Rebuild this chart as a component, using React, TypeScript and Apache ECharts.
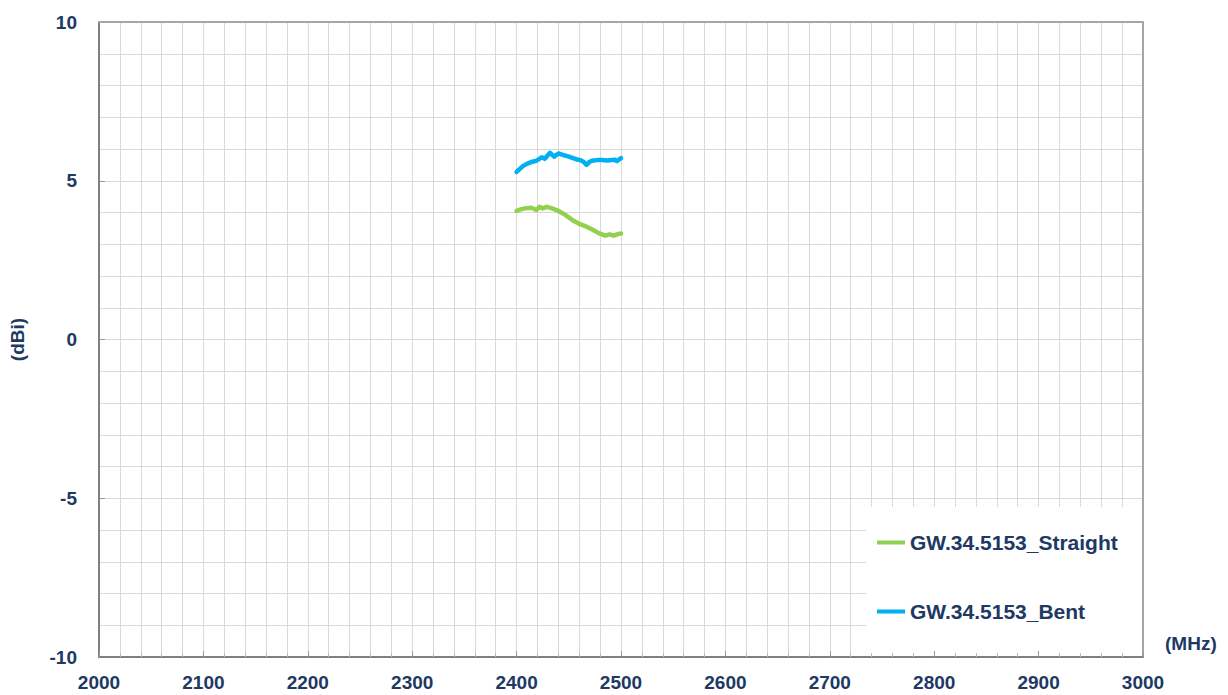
import React, { useEffect, useRef } from "react";
import * as echarts from "echarts";

const straightFreq = [2400, 2404, 2408, 2414, 2419, 2422, 2425, 2429, 2434, 2440, 2446, 2451, 2455, 2459, 2465, 2472, 2478, 2485, 2489, 2493, 2497, 2500];
const straightGain = [4.05, 4.10, 4.13, 4.15, 4.08, 4.18, 4.13, 4.18, 4.13, 4.05, 3.94, 3.82, 3.73, 3.66, 3.58, 3.47, 3.36, 3.27, 3.31, 3.27, 3.32, 3.34];

const bentFreq = [2400, 2406, 2411, 2415, 2419, 2424, 2427, 2432, 2436, 2440, 2445, 2450, 2454, 2458, 2461, 2464, 2467, 2470, 2472, 2477, 2482, 2487, 2491, 2494, 2496, 2500];
const bentGain = [5.28, 5.46, 5.55, 5.60, 5.63, 5.74, 5.69, 5.88, 5.76, 5.86, 5.81, 5.76, 5.71, 5.67, 5.65, 5.60, 5.50, 5.60, 5.63, 5.65, 5.65, 5.64, 5.65, 5.66, 5.62, 5.71];

const seriesNames = ["GW.34.5153_Straight", "GW.34.5153_Bent"];
const seriesColors = ["#92D050", "#00B0F0"];

const xMin = 2000, xMax = 3000, xStep = 100;
const yMin = -10, yMax = 10, yStep = 5;

const NAVY = "#203864";
const FONT = "'Liberation Sans', Arial, sans-serif";
const GRIDC = "#d9d9d9";

export default function App() {
  const ref = useRef<HTMLDivElement>(null);
  useEffect(() => {
    if (!ref.current) return;
    const chart = echarts.init(ref.current, null, { renderer: "svg" });
    const zip = (xs: number[], ys: number[]) => xs.map((x, i) => [x, ys[i]]);
    const labelStyle = { color: NAVY, fontSize: 19, fontWeight: "bold" as const, fontFamily: FONT };
    const plain = (v: number) => String(v);
    chart.setOption({
      animation: false,
      backgroundColor: "#ffffff",
      grid: { left: 99, top: 22, right: 85, bottom: 38, containLabel: false, outerBoundsMode: "none" },
      xAxis: [
        {
          type: "value", min: xMin, max: xMax, interval: xStep,
          axisLine: { show: false, onZero: false }, axisTick: { show: false }, axisLabel: { show: false },
          splitLine: { show: true, lineStyle: { color: GRIDC, width: 1 } },
          minorTick: { show: false, splitNumber: 5 },
          minorSplitLine: { show: true, lineStyle: { color: GRIDC, width: 1 } },
        },
        {
          type: "value", min: xMin, max: xMax, interval: xStep, position: "bottom", z: 200,
          axisLine: { show: true, onZero: false, lineStyle: { color: "#808080", width: 2 } },
          axisTick: { show: true, inside: true, length: 6, lineStyle: { color: "#999999" } },
          minorTick: { show: true, splitNumber: 5, length: 4, lineStyle: { color: "#bbbbbb" } },
          axisLabel: { ...labelStyle, margin: 16, formatter: plain },
          splitLine: { show: false },
        },
        {
          type: "value", min: xMin, max: xMax, interval: xStep, position: "top", z: 200,
          axisLine: { show: true, onZero: false, lineStyle: { color: "#a6a6a6", width: 2 } },
          axisTick: { show: false }, axisLabel: { show: false }, splitLine: { show: false },
        },
      ],
      yAxis: [
        {
          type: "value", min: yMin, max: yMax, interval: yStep, position: "left",
          name: "(dBi)", nameLocation: "middle", nameGap: 72,
          nameTextStyle: { ...labelStyle },
          axisLine: { show: true, onZero: false, lineStyle: { color: "#808080", width: 2 } },
          axisTick: { show: true, inside: true, length: 6, lineStyle: { color: "#999999" } },
          axisLabel: { ...labelStyle, margin: 22, formatter: plain },
          splitLine: { show: true, lineStyle: { color: GRIDC, width: 1 } },
          minorTick: { show: false, splitNumber: 5 },
          minorSplitLine: { show: true, lineStyle: { color: GRIDC, width: 1 } },
        },
        {
          type: "value", min: yMin, max: yMax, interval: yStep, position: "right", z: 200,
          axisLine: { show: true, onZero: false, lineStyle: { color: "#a6a6a6", width: 2 } },
          axisTick: { show: false }, axisLabel: { show: false }, splitLine: { show: false },
        },
      ],
      legend: {
        orient: "vertical", left: 872, top: 527, itemGap: 48, z: 100,
        icon: "rect", itemWidth: 28, itemHeight: 4,
        textStyle: { color: NAVY, fontSize: 21, fontWeight: "bold", fontFamily: FONT },
        data: seriesNames,
      },
      graphic: [
        {
          type: "rect", z: 50, silent: true,
          shape: { x: 866, y: 507, width: 277, height: 150 },
          style: { fill: "#ffffff" },
        },
        {
          type: "text", z: 100, x: 1165, y: 643,
          style: { text: "(MHz)", fill: NAVY, font: `bold 19px ${FONT}`, textVerticalAlign: "middle" },
        },
      ],
      series: [
        {
          name: seriesNames[0], type: "line", xAxisIndex: 0, yAxisIndex: 0,
          data: zip(straightFreq, straightGain), showSymbol: false, symbol: "none",
          lineStyle: { color: seriesColors[0], width: 4.5, cap: "round", join: "round" },
          itemStyle: { color: seriesColors[0] },
        },
        {
          name: seriesNames[1], type: "line", xAxisIndex: 0, yAxisIndex: 0,
          data: zip(bentFreq, bentGain), showSymbol: false, symbol: "none",
          lineStyle: { color: seriesColors[1], width: 4.5, cap: "round", join: "round" },
          itemStyle: { color: seriesColors[1] },
        },
      ],
    });
    return () => chart.dispose();
  }, []);
  return (
    <div
      ref={ref}
      style={{ position: "absolute", left: 0, top: 0, width: 1228, height: 695 }}
    />
  );
}
